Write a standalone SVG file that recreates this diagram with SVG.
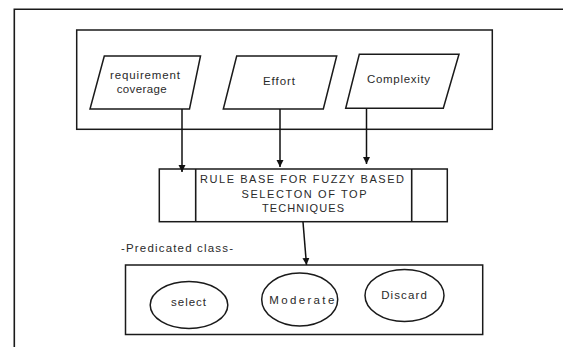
<svg xmlns="http://www.w3.org/2000/svg" width="563" height="347" viewBox="0 0 563 347">
<defs>
<style>
.ln{fill:none;stroke:#1a1a1a;stroke-width:1.6}
.sh{fill:#fff;stroke:#1a1a1a;stroke-width:1.5}
.tx{font-family:"Liberation Sans",Arial,sans-serif;font-size:11.5px;fill:#2a2a2a;text-anchor:middle}
.cap{font-size:11px}
.con{fill:none;stroke:#111;stroke-width:1.5}
</style>
<marker id="ah" markerWidth="8" markerHeight="8" refX="7" refY="4" orient="auto" markerUnits="userSpaceOnUse">
<path d="M0,0.5 L7,4 L0,7.5 Z" fill="#111"/>
</marker>
</defs>
<rect width="563" height="347" fill="#fff"/>
<path class="ln" d="M14.3,347 V9.3 H563" stroke-width="1.8"/>
<g id="inputs">
<rect class="sh" x="76.7" y="30" width="415.6" height="99.3"/>
</g>
<g id="req">
<polygon class="sh" points="104.3,56 200.5,56 189.5,109 90,109"/>
<text class="tx" x="145" y="79" textLength="70" lengthAdjust="spacing">requirement</text>
<text class="tx" x="141.7" y="93" textLength="50" lengthAdjust="spacing">coverage</text>
</g>
<g id="effort">
<polygon class="sh" points="236.7,56 336.7,56 323.3,109 223.3,109"/>
<text class="tx" x="279" y="85" textLength="32" lengthAdjust="spacing">Effort</text>
</g>
<g id="complexity">
<polygon class="sh" points="359.3,54.3 459,54.3 443.3,108.3 345.7,108.3"/>
<text class="tx" x="398.5" y="83" textLength="63" lengthAdjust="spacing">Complexity</text>
</g>
<g id="rulebase">
<rect class="sh" x="159.3" y="169" width="288" height="52.7"/>
<line class="ln" x1="195.7" y1="169" x2="195.7" y2="221.7" stroke-width="1.4"/>
<line class="ln" x1="411.7" y1="169" x2="411.7" y2="221.7" stroke-width="1.4"/>
<text class="tx cap" x="302" y="183" textLength="204" lengthAdjust="spacing">RULE BASE FOR FUZZY BASED</text>
<text class="tx cap" x="304" y="197.5" textLength="125" lengthAdjust="spacing">SELECTON OF TOP</text>
<text class="tx cap" x="303" y="212" textLength="82" lengthAdjust="spacing">TECHNIQUES</text>
</g>
<g id="label">
<text class="tx" x="177" y="252" textLength="112" lengthAdjust="spacing">-Predicated class-</text>
</g>
<g id="classes">
<rect class="sh" x="125.5" y="265" width="357.2" height="69.5"/>
</g>
<g id="select">
<ellipse class="sh" cx="189" cy="305" rx="38.8" ry="23.5" stroke-width="1.4"/>
<text class="tx" x="188.5" y="305.5" textLength="35" lengthAdjust="spacing">select</text>
</g>
<g id="moderate">
<ellipse class="sh" cx="299.7" cy="299.5" rx="38" ry="26.5" stroke-width="1.4"/>
<text class="tx" x="301.8" y="304" textLength="65" lengthAdjust="spacing">Moderate</text>
</g>
<g id="discard">
<ellipse class="sh" cx="404.5" cy="295.5" rx="39.5" ry="26" stroke-width="1.4"/>
<text class="tx" x="404" y="299" textLength="45.7" lengthAdjust="spacing">Discard</text>
</g>
<g id="connectors">
<line class="con" x1="182" y1="109" x2="182" y2="172" marker-end="url(#ah)"/>
<line class="con" x1="280" y1="109" x2="280" y2="167" marker-end="url(#ah)"/>
<line class="con" x1="366.5" y1="108.5" x2="366.5" y2="164" marker-end="url(#ah)"/>
<line class="con" x1="303" y1="222" x2="306.5" y2="265" marker-end="url(#ah)"/>
</g>
</svg>
